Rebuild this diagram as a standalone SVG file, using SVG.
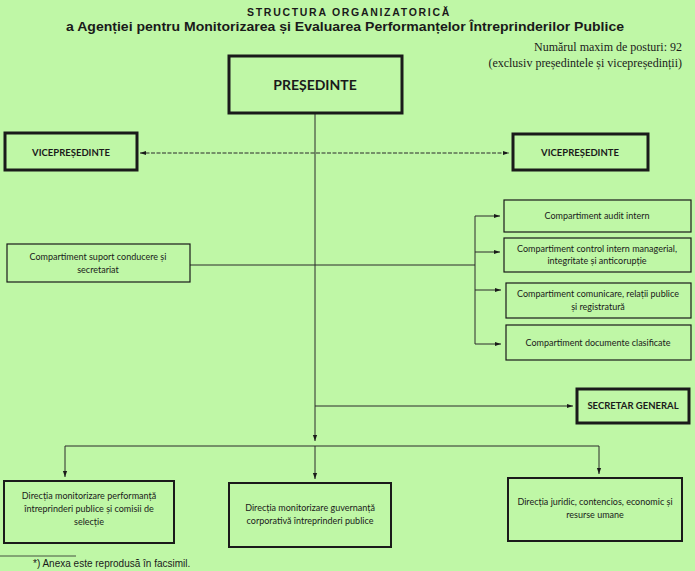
<svg xmlns="http://www.w3.org/2000/svg" width="695" height="571" viewBox="0 0 695 571">
<defs>
<style>
.box{fill:none;stroke:#1a1a1a;stroke-width:1.2}
.thick{fill:none;stroke:#1a1a1a;stroke-width:3}
.ln{fill:none;stroke:#2a2a2a;stroke-width:1}
.lbl{font-family:Lato,"Open Sans","Liberation Sans",sans-serif;font-size:9px;fill:#1a1a1a;text-anchor:middle}
.blbl{font-family:Lato,"Open Sans","Liberation Sans",sans-serif;font-size:9.5px;font-weight:bold;fill:#1a1a1a;text-anchor:middle}
.serif{font-family:"Liberation Serif",serif;font-size:12px;fill:#1a1a1a;text-anchor:end}
</style>
<marker id="ah" viewBox="0 0 10 10" refX="10" refY="5" markerWidth="6" markerHeight="6" orient="auto-start-reverse" markerUnits="userSpaceOnUse">
<path d="M0,1.5 L10,5 L0,8.5 z" fill="#1a1a1a"/>
</marker>
</defs>
<rect x="0" y="0" width="695" height="571" fill="#bff7a6"/>

<g id="title">
<text x="349" y="16" font-family="Liberation Sans,Arial,sans-serif" font-size="10.5" font-weight="bold" fill="#1a1a1a" text-anchor="middle" letter-spacing="1.7">STRUCTURA ORGANIZATORICĂ</text>
<text x="345" y="31" font-family="Liberation Sans,Arial,sans-serif" font-size="12.5" font-weight="bold" fill="#1a1a1a" text-anchor="middle" textLength="558" lengthAdjust="spacingAndGlyphs">a Agenției pentru Monitorizarea și Evaluarea Performanțelor Întreprinderilor Publice</text>
<text class="serif" x="682" y="51">Numărul maxim de posturi: 92</text>
<text class="serif" x="682" y="67">(exclusiv președintele și vicepreședinții)</text>
</g>

<g id="connectors">
<line class="ln" x1="315" y1="113" x2="315" y2="441" marker-end="url(#ah)"/>
<line class="ln" x1="140" y1="153" x2="509" y2="153" stroke-dasharray="4 1.5" marker-start="url(#ah)" marker-end="url(#ah)"/>
<line class="ln" x1="190" y1="265" x2="475" y2="265"/>
<line class="ln" x1="475" y1="216" x2="475" y2="344"/>
<line class="ln" x1="475" y1="216" x2="500" y2="216" marker-end="url(#ah)"/>
<line class="ln" x1="475" y1="252" x2="500" y2="252" marker-end="url(#ah)"/>
<line class="ln" x1="475" y1="290" x2="501" y2="290" marker-end="url(#ah)"/>
<line class="ln" x1="475" y1="344" x2="501" y2="344" marker-end="url(#ah)"/>
<line class="ln" x1="315" y1="406" x2="573" y2="406" marker-end="url(#ah)"/>
<line class="ln" x1="65" y1="446" x2="599" y2="446"/>
<line class="ln" x1="65" y1="446" x2="65" y2="477" marker-end="url(#ah)"/>
<line class="ln" x1="315" y1="446" x2="315" y2="479" marker-end="url(#ah)"/>
<line class="ln" x1="599" y1="446" x2="599" y2="474" marker-end="url(#ah)"/>
</g>

<g id="presedinte">
<rect class="thick" x="229" y="56" width="173" height="57"/>
<text class="blbl" x="315" y="90" style="font-size:14px">PREȘEDINTE</text>
</g>
<g id="vice-left">
<rect class="thick" x="5" y="133" width="132" height="37"/>
<text class="blbl" x="71" y="156">VICEPREȘEDINTE</text>
</g>
<g id="vice-right">
<rect class="thick" x="513" y="134" width="135" height="36"/>
<text class="blbl" x="580" y="156">VICEPREȘEDINTE</text>
</g>
<g id="suport">
<rect class="box" x="7" y="244" width="183" height="38"/>
<text class="lbl" x="98" y="260">Compartiment suport conducere și</text>
<text class="lbl" x="98" y="273">secretariat</text>
</g>
<g id="audit">
<rect class="box" x="504" y="200" width="187" height="32"/>
<text class="lbl" x="597" y="219">Compartiment audit intern</text>
</g>
<g id="control">
<rect class="box" x="504" y="238" width="187" height="34"/>
<text class="lbl" x="597" y="252">Compartiment control intern managerial,</text>
<text class="lbl" x="597" y="264">integritate și anticorupție</text>
</g>
<g id="comunicare">
<rect class="box" x="506" y="283" width="185" height="35"/>
<text class="lbl" x="598" y="297">Compartiment comunicare, relații publice</text>
<text class="lbl" x="598" y="310">și registratură</text>
</g>
<g id="documente">
<rect class="box" x="506" y="325" width="185" height="35"/>
<text class="lbl" x="598" y="346">Compartiment documente clasificate</text>
</g>
<g id="secretar">
<rect class="thick" x="577" y="389" width="112" height="34"/>
<text class="blbl" x="633" y="409">SECRETAR GENERAL</text>
</g>
<g id="dir-performanta">
<rect class="thick" x="4" y="481" width="170" height="62" style="stroke-width:2"/>
<text class="lbl" x="89" y="499">Direcția monitorizare performanță</text>
<text class="lbl" x="89" y="512">întreprinderi publice și comisii de</text>
<text class="lbl" x="89" y="525">selecție</text>
</g>
<g id="dir-guvernanta">
<rect class="thick" x="229" y="483" width="162" height="64" style="stroke-width:2"/>
<text class="lbl" x="310" y="511">Direcția monitorizare guvernanță</text>
<text class="lbl" x="310" y="524">corporativă  întreprinderi publice</text>
</g>
<g id="dir-juridic">
<rect class="thick" x="508" y="478" width="174" height="63" style="stroke-width:2"/>
<text class="lbl" x="595" y="505">Direcția juridic, contencios, economic și</text>
<text class="lbl" x="595" y="518">resurse umane</text>
</g>

<g id="footnote">
<line x1="0" y1="556" x2="76" y2="556" stroke="#2a2a2a" stroke-width="0.8"/>
<text x="33" y="567" font-family="Liberation Sans,Arial,sans-serif" font-size="10" fill="#1a1a1a">*) Anexa este reprodusă în facsimil.</text>
</g>
</svg>
